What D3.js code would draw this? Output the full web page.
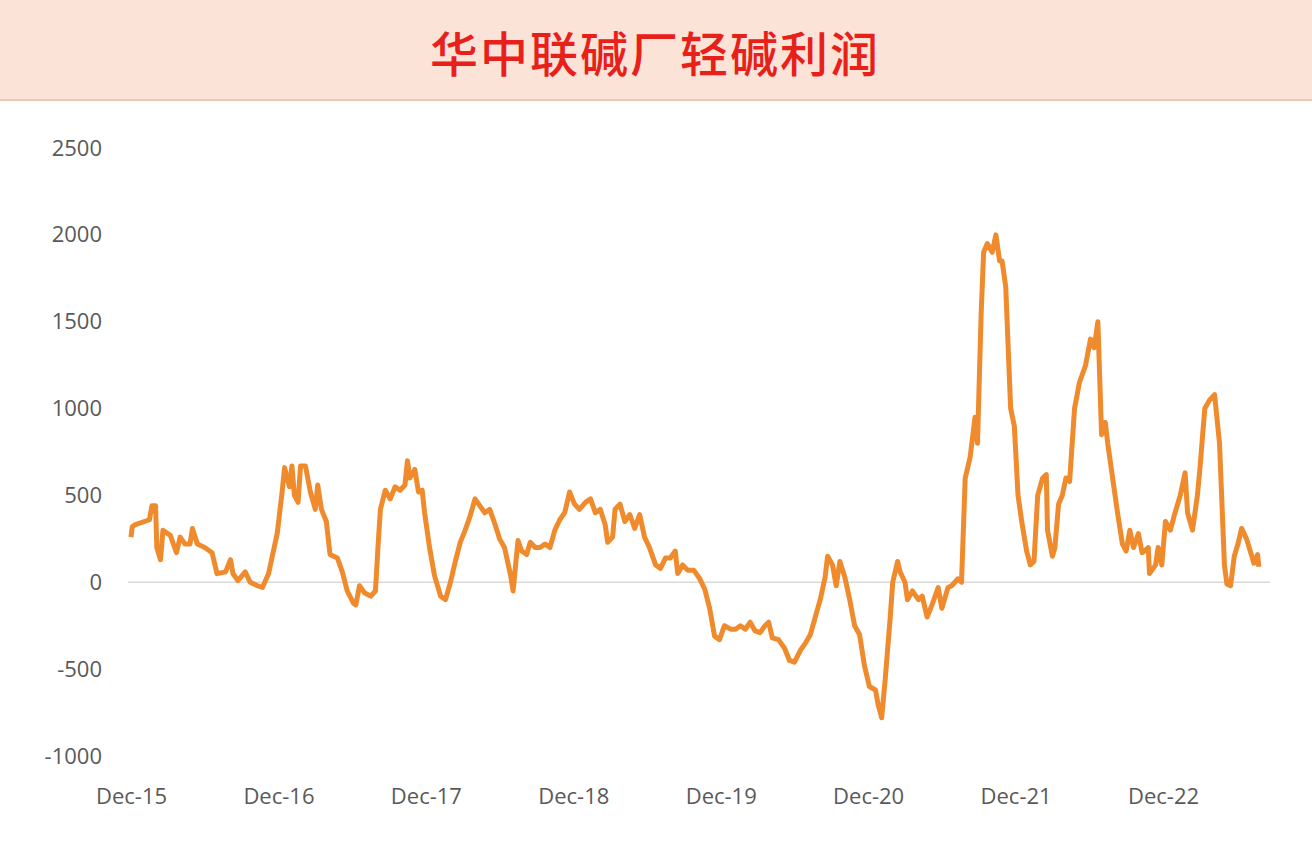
<!DOCTYPE html>
<html><head><meta charset="utf-8">
<script src="https://cdn.jsdelivr.net/npm/d3@7"></script>
<style>body{margin:0;background:#fff}svg{display:block}</style></head>
<body><svg id="c" width="1312" height="842"></svg>
<script>
const title = "华中联碱厂轻碱利润";
const yTicks = [-1000,-500,0,500,1000,1500,2000,2500];
const xTickMonths = [0,12,24,36,48,60,72,84];
const xTickLabels = ["Dec-15","Dec-16","Dec-17","Dec-18","Dec-19","Dec-20","Dec-21","Dec-22"];
// months since Dec-2015
const months = [0,0.1,0.3,1.5,1.7,2.0,2.1,2.4,2.6,3.2,3.7,4.0,4.4,4.8,5.0,5.4,6.0,6.6,7.0,7.7,8.1,8.3,8.7,9.3,9.7,10.3,10.7,11.2,11.5,11.9,12.3,12.5,12.9,13.1,13.3,13.6,13.8,14.2,14.6,15.0,15.2,15.5,15.9,16.2,16.8,17.2,17.6,18.1,18.3,18.6,19.0,19.5,19.9,20.1,20.3,20.7,21.1,21.5,21.9,22.3,22.5,22.7,23.1,23.4,23.7,23.9,24.3,24.7,25.2,25.6,26.0,26.4,26.8,27.2,27.6,28.0,28.4,28.8,29.2,29.6,30.0,30.4,30.9,31.1,31.5,31.8,32.2,32.5,32.9,33.3,33.7,34.1,34.5,34.9,35.3,35.7,36.1,36.5,37.0,37.4,37.8,38.2,38.6,38.8,39.2,39.4,39.8,40.2,40.6,41.0,41.4,41.8,42.2,42.7,43.1,43.5,43.9,44.3,44.5,44.9,45.3,45.8,46.3,46.7,47.1,47.5,47.9,48.3,48.8,49.2,49.6,50.0,50.4,50.8,51.2,51.6,51.9,52.2,52.7,53.2,53.6,54.0,54.5,54.9,55.3,55.7,56.1,56.5,56.7,57.1,57.4,57.7,58.1,58.5,58.9,59.3,59.7,60.1,60.6,60.8,61.1,61.4,61.8,62.0,62.4,62.6,63.0,63.2,63.6,64.1,64.4,64.8,65.2,65.7,66.0,66.5,66.8,67.3,67.6,67.9,68.3,68.7,68.9,69.2,69.4,69.7,70.1,70.4,70.7,70.9,71.2,71.6,71.9,72.2,72.5,72.9,73.2,73.5,73.8,74.2,74.5,74.6,75.0,75.2,75.5,75.8,76.1,76.4,76.8,77.2,77.7,78.1,78.4,78.7,79.0,79.3,79.5,79.9,80.3,80.7,81.0,81.3,81.6,82.0,82.3,82.8,82.9,83.4,83.6,83.9,84.2,84.6,84.9,85.4,85.8,86.0,86.4,86.8,87.0,87.4,87.8,88.2,88.6,89.0,89.2,89.5,89.8,90.1,90.4,90.8,91.1,91.4,91.7,91.8];
const profit = [260,320,330,360,440,440,200,130,300,270,170,260,220,220,310,220,200,170,50,60,130,50,10,60,0,-20,-30,50,150,280,520,660,550,670,500,460,670,670,520,420,560,420,350,160,140,60,-50,-120,-130,-20,-60,-80,-50,200,420,530,480,550,530,560,700,600,650,520,530,400,200,40,-80,-100,0,120,230,300,380,480,440,400,420,340,250,200,40,-50,240,180,160,230,200,200,220,200,300,360,400,520,450,420,460,480,400,420,330,230,260,420,450,350,390,310,390,260,200,100,80,140,140,180,50,100,70,70,20,-40,-150,-310,-330,-250,-270,-270,-250,-270,-230,-280,-290,-250,-230,-320,-330,-380,-450,-460,-390,-350,-300,-200,-100,30,150,100,-20,120,30,-100,-250,-300,-480,-600,-620,-700,-780,-550,-200,0,120,60,0,-100,-50,-100,-80,-200,-130,-30,-150,-30,-20,20,0,600,720,950,800,1550,1900,1950,1900,2000,1850,1850,1700,1000,900,500,350,180,100,120,500,600,620,300,150,200,450,500,600,580,1000,1150,1250,1400,1350,1500,850,920,800,600,400,220,180,300,200,280,170,200,50,100,200,100,350,300,380,500,630,400,300,500,650,1000,1050,1080,800,100,-10,-20,150,220,310,250,180,110,160,90];

const svg = d3.select("#c");
svg.append("rect").attr("x",0).attr("y",0).attr("width",1312).attr("height",100).attr("fill","#fce3d7");
svg.append("line").attr("x1",0).attr("x2",1312).attr("y1",100).attr("y2",100).attr("stroke","#efc9b8").attr("stroke-width",2);
svg.append("text").attr("x",655).attr("y",72).attr("text-anchor","middle")
  .attr("font-family","Noto Sans CJK SC").attr("font-weight",500).attr("font-size",48).attr("fill","#e8201a").attr("letter-spacing",2).text(title);

const x = d3.scaleLinear().domain([0,84]).range([131,1163]);
const y = d3.scaleLinear().domain([-1000,2500]).range([756,148]);

const yAx = svg.append("g").attr("transform","translate(102,0)")
  .call(d3.axisLeft(y).tickValues(yTicks).tickFormat(d=>String(d)).tickSize(0).tickPadding(0));
yAx.select(".domain").remove();
yAx.selectAll("text").attr("font-family","Open Sans").attr("font-size",22).attr("fill","#595959");

svg.append("line").attr("x1",128).attr("x2",1270).attr("y1",y(0)).attr("y2",y(0)).attr("stroke","#d9d9d9").attr("stroke-width",1.5);

const xAx = svg.append("g").attr("transform","translate(0,788)")
  .call(d3.axisBottom(x).tickValues(xTickMonths).tickFormat((d,i)=>xTickLabels[i]).tickSize(0).tickPadding(0));
xAx.select(".domain").remove();
xAx.selectAll("text").attr("font-family","Open Sans").attr("font-size",22).attr("fill","#595959");

const data = months.map((m,i)=>[m,profit[i]]);
svg.append("path").datum(data).attr("fill","none").attr("stroke","#ef8a2d").attr("stroke-width",5)
  .attr("stroke-linejoin","round").attr("d",d3.line().x(d=>x(d[0])).y(d=>y(d[1])));
</script></body></html>
